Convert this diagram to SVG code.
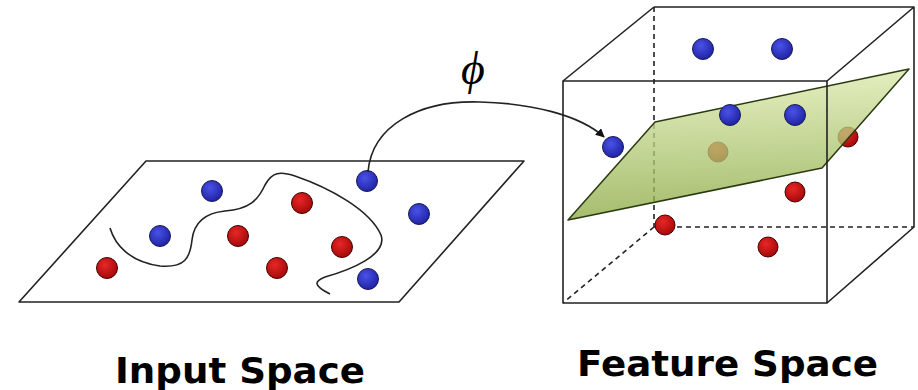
<svg xmlns="http://www.w3.org/2000/svg" width="918" height="390" viewBox="0 0 918 390">
  <style>
    .edge { fill: none; stroke: #222; stroke-width: 1.6; stroke-linejoin: round; }
    .dash { fill: none; stroke: #222; stroke-width: 1.6; stroke-dasharray: 5 4; }
    .blue { fill: url(#gBlue); stroke: #1a1a55; stroke-width: 1; }
    .red { fill: url(#gRed); stroke: #4a0000; stroke-width: 1; }
    .label { font-family: "DejaVu Sans", "Liberation Sans", sans-serif; font-weight: bold; fill: #000; }
  </style>
  <defs>
    <radialGradient id="gBlue" cx="0.4" cy="0.35" r="0.7">
      <stop offset="0" stop-color="#4a52e8"/>
      <stop offset="1" stop-color="#1c20a0"/>
    </radialGradient>
    <radialGradient id="gRed" cx="0.4" cy="0.35" r="0.7">
      <stop offset="0" stop-color="#e82626"/>
      <stop offset="1" stop-color="#a00808"/>
    </radialGradient>
    <linearGradient id="gPlane" x1="0" y1="0" x2="0.1" y2="1">
      <stop offset="0" stop-color="#e4f0b8"/>
      <stop offset="1" stop-color="#8caa44"/>
    </linearGradient>
    <marker id="arrow" viewBox="0 0 10 10" refX="9" refY="5" markerWidth="9" markerHeight="9" orient="auto" markerUnits="userSpaceOnUse">
      <path d="M0,0 L10,5 L0,10 z" fill="#111"/>
    </marker>
  </defs>

  <g id="input-space">
    <polygon class="edge" points="146,161 524,161 399,302 19,302"/>
    <path class="edge" stroke-width="1.8" d="M110,228 C115,245 130,262 160,266 C185,268 190,258 192,240 C194,222 205,213 225,211 C250,209 258,200 265,185 C272,172 280,171 295,176 C330,188 370,210 381,235 C388,255 350,270 325,277 C315,281 312,285 330,294"/>
    <circle class="blue" cx="212" cy="191" r="10.5"/>
    <circle class="blue" cx="367" cy="181" r="10.5"/>
    <circle class="blue" cx="419" cy="214" r="10.5"/>
    <circle class="blue" cx="160" cy="236" r="10.5"/>
    <circle class="blue" cx="368" cy="279" r="10.5"/>
    <circle class="red" cx="302" cy="203" r="10.5"/>
    <circle class="red" cx="238" cy="236" r="10.5"/>
    <circle class="red" cx="342" cy="247" r="10.5"/>
    <circle class="red" cx="107" cy="268" r="10.5"/>
    <circle class="red" cx="277" cy="268" r="10.5"/>
  </g>

  <g id="feature-space">
    <path class="dash" d="M654,7 V227 H914 M654,227 L563,303"/>
    <path class="edge" d="M654,7 H914 V227 L827,303 M563,81 L654,7 M827,81 L914,7"/>
    <circle class="blue" cx="703" cy="49" r="10.5"/>
    <circle class="blue" cx="782" cy="49" r="10.5"/>
    <circle class="red" cx="718" cy="152" r="10"/>
    <circle class="red" cx="848" cy="137" r="10"/>
    <polygon points="568,220 655,122 909,69 822,168" fill="url(#gPlane)" fill-opacity="0.78" stroke="#2a3a10" stroke-width="1.5" stroke-linejoin="round"/>
    <circle class="blue" cx="730" cy="115" r="10.5"/>
    <circle class="blue" cx="795" cy="115" r="10.5"/>
    <circle class="blue" cx="613" cy="147" r="10.5"/>
    <circle class="red" cx="795" cy="192" r="10"/>
    <circle class="red" cx="665" cy="225" r="10"/>
    <circle class="red" cx="768" cy="247" r="10"/>
    <rect class="edge" x="563" y="81" width="264" height="222"/>
  </g>

  <g id="connectors">
    <path class="edge" stroke-width="1.5" d="M368,172 C372,125 420,100 480,102 C530,103 580,115 604,137" marker-end="url(#arrow)"/>
    <text x="473" y="84" font-family="Liberation Serif, serif" font-style="italic" font-size="46" text-anchor="middle" fill="#000">ϕ</text>
  </g>

  <g id="labels">
    <text class="label" x="115" y="383" font-size="36" textLength="250" lengthAdjust="spacingAndGlyphs">Input Space</text>
    <text class="label" x="577" y="376" font-size="35" textLength="301" lengthAdjust="spacingAndGlyphs">Feature Space</text>
  </g>
</svg>
